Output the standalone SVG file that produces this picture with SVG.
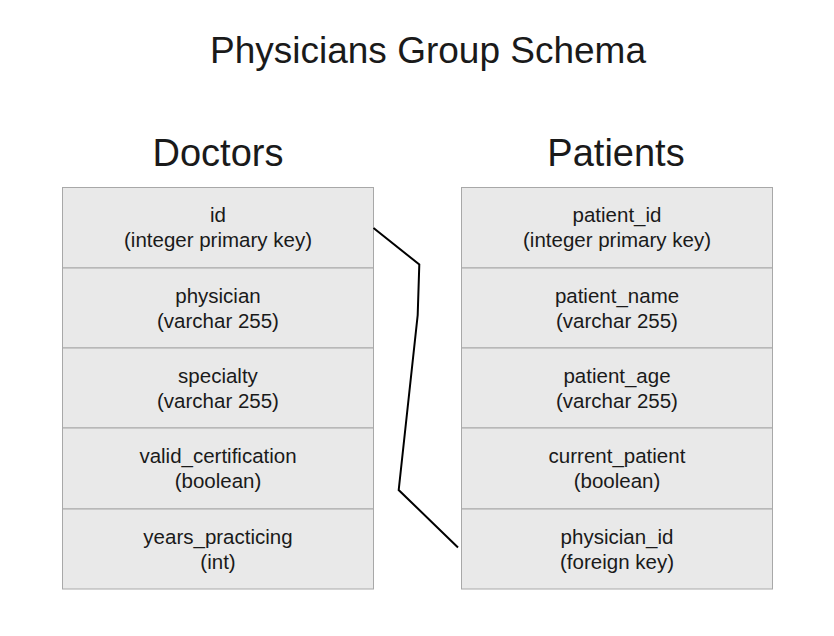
<svg xmlns="http://www.w3.org/2000/svg" width="834" height="636" viewBox="0 0 834 636">
<style>
.t{font-family:"Liberation Sans",Arial,sans-serif;fill:#1a1a1a;text-anchor:middle}
.title{font-size:37px}
.head{font-size:38px}
.f{font-size:20.5px}
.cell{fill:#e9e9e9;stroke:#a8a8a8;stroke-width:1}
.conn{fill:none;stroke:#000;stroke-width:2}
</style>
<rect width="834" height="636" fill="#fff"/>
<text class="t title" x="428" y="63">Physicians Group Schema</text>
<g id="doctors">
<text class="t head" x="218" y="166">Doctors</text>
<rect class="cell" x="62.5" y="187.5" width="311" height="80.5"/>
<rect class="cell" x="62.5" y="268" width="311" height="80"/>
<rect class="cell" x="62.5" y="348" width="311" height="80"/>
<rect class="cell" x="62.5" y="428" width="311" height="81"/>
<rect class="cell" x="62.5" y="509" width="311" height="80"/>
<text class="t f" x="218" y="222">id</text>
<text class="t f" x="218" y="247">(integer primary key)</text>
<text class="t f" x="218" y="303">physician</text>
<text class="t f" x="218" y="328">(varchar 255)</text>
<text class="t f" x="218" y="383">specialty</text>
<text class="t f" x="218" y="408">(varchar 255)</text>
<text class="t f" x="218" y="463">valid_certification</text>
<text class="t f" x="218" y="488">(boolean)</text>
<text class="t f" x="218" y="544">years_practicing</text>
<text class="t f" x="218" y="569">(int)</text>
</g>
<g id="patients">
<text class="t head" x="616" y="166">Patients</text>
<rect class="cell" x="461.5" y="187.5" width="311" height="80.5"/>
<rect class="cell" x="461.5" y="268" width="311" height="80"/>
<rect class="cell" x="461.5" y="348" width="311" height="80"/>
<rect class="cell" x="461.5" y="428" width="311" height="81"/>
<rect class="cell" x="461.5" y="509" width="311" height="80"/>
<text class="t f" x="617" y="222">patient_id</text>
<text class="t f" x="617" y="247">(integer primary key)</text>
<text class="t f" x="617" y="303">patient_name</text>
<text class="t f" x="617" y="328">(varchar 255)</text>
<text class="t f" x="617" y="383">patient_age</text>
<text class="t f" x="617" y="408">(varchar 255)</text>
<text class="t f" x="617" y="463">current_patient</text>
<text class="t f" x="617" y="488">(boolean)</text>
<text class="t f" x="617" y="544">physician_id</text>
<text class="t f" x="617" y="569">(foreign key)</text>
</g>
<g id="connectors">
<polyline class="conn" points="373.5,228 419.3,264.5 417.7,315 398.7,490 458,547.5"/>
</g>
</svg>
